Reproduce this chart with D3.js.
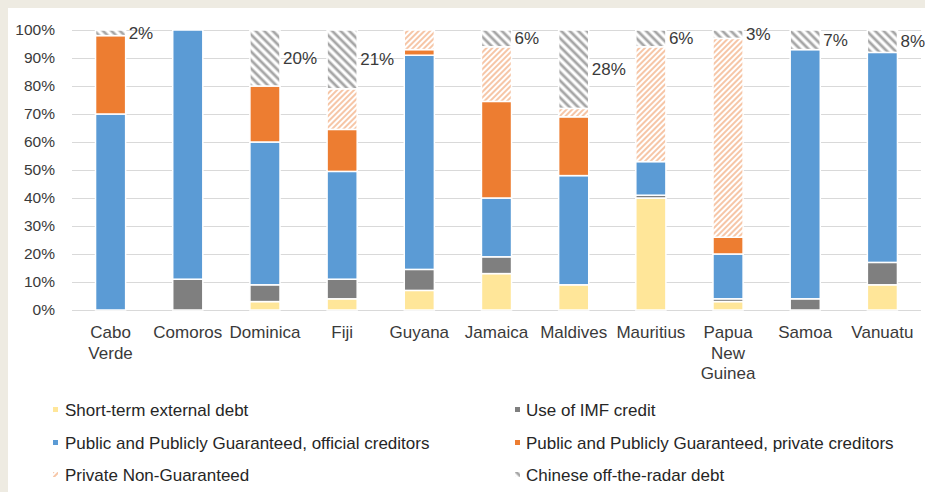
<!DOCTYPE html>
<html>
<head>
<meta charset="utf-8">
<script src="https://cdn.jsdelivr.net/npm/d3@7"></script>
<style>
  body { margin: 0; background: #fff; }
  svg { display: block; font-family: "Liberation Sans", Arial, sans-serif; }
</style>
</head>
<body>
<svg width="925" height="492"></svg>
<script>
// countries on the x axis (line breaks marked by "|")
var countries = ["Cabo|Verde", "Comoros", "Dominica", "Fiji", "Guyana", "Jamaica",
  "Maldives", "Mauritius", "Papua|New|Guinea", "Samoa", "Vanuatu"];

// shares of external debt, in percent
var shortTerm      = [0, 0, 3, 4, 7, 13, 9, 40, 3, 0, 9];
var imfCredit      = [0, 11, 6, 7, 7.5, 6, 0, 1, 1, 4, 8];
var ppgOfficial    = [70, 89, 51, 38.5, 76.5, 21, 39, 12, 16, 89, 75];
var ppgPrivate     = [28, 0, 20, 15, 2, 34.5, 21, 0, 6, 0, 0];
var privateNonGuar = [0, 0, 0, 14.5, 7, 19.5, 3, 41, 71, 0, 0];
var chineseHidden  = [2, 0, 20, 21, 0, 6, 28, 6, 3, 7, 8];

var yTicks = [0, 10, 20, 30, 40, 50, 60, 70, 80, 90, 100];

var seriesNames = ["Short-term external debt", "Use of IMF credit",
  "Public and Publicly Guaranteed, official creditors",
  "Public and Publicly Guaranteed, private creditors",
  "Private Non-Guaranteed", "Chinese off-the-radar debt"];

var svg = d3.select("svg");

// beige frame on the top and left edge
svg.append("rect").attr("x", 0).attr("y", 0).attr("width", 925).attr("height", 8).attr("fill", "#eeebe2");
svg.append("rect").attr("x", 0).attr("y", 0).attr("width", 8).attr("height", 492).attr("fill", "#eeebe2");

var defs = svg.append("defs");

function hatch(id, color, size, stroke, angle) {
  var p = defs.append("pattern")
    .attr("id", id)
    .attr("patternUnits", "userSpaceOnUse")
    .attr("width", size)
    .attr("height", size)
    .attr("patternTransform", "rotate(" + angle + ")");
  p.append("rect").attr("width", size).attr("height", size).attr("fill", "#fff");
  p.append("line")
    .attr("x1", size / 2).attr("y1", 0)
    .attr("x2", size / 2).attr("y2", size)
    .attr("stroke", color)
    .attr("stroke-width", stroke);
}
hatch("hatchPng", "#f2a878", 4, 1.3, 45);
hatch("hatchChina", "#a6a6a6", 6, 2.8, -45);

var fills = ["#ffe699", "#7f7f7f", "#5b9bd5", "#ed7d31", "url(#hatchPng)", "url(#hatchChina)"];

var table = countries.map(function(c, i) {
  return {
    country: c,
    s0: shortTerm[i], s1: imfCredit[i], s2: ppgOfficial[i],
    s3: ppgPrivate[i], s4: privateNonGuar[i], s5: chineseHidden[i]
  };
});
var keys = ["s0", "s1", "s2", "s3", "s4", "s5"];
var stacked = d3.stack().keys(keys)(table);

var x = d3.scaleBand()
  .domain(countries)
  .range([72, 921])
  .paddingInner(0.61)
  .paddingOuter(0.305);

var y = d3.scaleLinear()
  .domain([0, 100])
  .range([310, 30]);

// gridlines
svg.append("g")
  .selectAll("line")
  .data(yTicks)
  .enter().append("line")
  .attr("x1", 72)
  .attr("x2", 921)
  .attr("y1", function(d) { return y(d) + 0.5; })
  .attr("y2", function(d) { return y(d) + 0.5; })
  .attr("stroke", "#d9d9d9")
  .attr("stroke-width", 1);

// y axis labels
var yAxis = svg.append("g")
  .attr("transform", "translate(64,0)")
  .call(d3.axisLeft(y).tickValues(yTicks).tickSize(0).tickPadding(9)
    .tickFormat(function(d) { return d + "%"; }));
yAxis.select(".domain").remove();
yAxis.selectAll("text")
  .attr("font-size", "15.5px")
  .attr("font-family", "Liberation Sans, Arial, sans-serif")
  .attr("fill", "#3a3a3a");

// stacked bars
var layers = svg.append("g")
  .selectAll("g")
  .data(stacked)
  .enter().append("g")
  .attr("fill", function(d, i) { return fills[i]; });

layers.selectAll("rect")
  .data(function(d) { return d.filter(function(s) { return s[1] - s[0] > 0; }); })
  .enter().append("rect")
  .attr("x", function(d) { return x(d.data.country); })
  .attr("width", x.bandwidth())
  .attr("y", function(d) { return y(d[1]); })
  .attr("height", function(d) { return y(d[0]) - y(d[1]); })
  .attr("stroke", "#fff")
  .attr("stroke-width", 1.5);

// labels with the Chinese off-the-radar share
var chinaLayer = stacked[5];
svg.append("g")
  .selectAll("text")
  .data(chinaLayer.filter(function(s) { return s[1] - s[0] > 0; }))
  .enter().append("text")
  .attr("x", function(d) { return x(d.data.country) + x.bandwidth() + 3; })
  .attr("y", function(d) { return y((d[0] + d[1]) / 2) + 6; })
  .attr("font-size", "17px")
  .attr("fill", "#3a3a3a")
  .text(function(d) { return d.data.s5 + "%"; });

// category labels
var cat = svg.append("g")
  .selectAll("text")
  .data(countries)
  .enter().append("text")
  .attr("text-anchor", "middle")
  .attr("font-size", "17px")
  .attr("fill", "#3a3a3a");
cat.each(function(c) {
  var t = d3.select(this);
  c.split("|").forEach(function(part, k) {
    t.append("tspan")
      .attr("x", x(c) + x.bandwidth() / 2)
      .attr("y", 338 + k * 20.5)
      .text(part);
  });
});

// legend: two columns, three rows
var legend = svg.append("g")
  .selectAll("g")
  .data(seriesNames)
  .enter().append("g")
  .attr("transform", function(d, i) {
    var col = i % 2, row = Math.floor(i / 2);
    return "translate(" + (col === 0 ? 53 : 515) + "," + [410, 443, 475][row] + ")";
  });

legend.append("rect")
  .attr("x", 0)
  .attr("y", -3)
  .attr("width", 5)
  .attr("height", 5)
  .attr("fill", function(d, i) { return fills[i]; });

legend.append("text")
  .attr("x", function(d, i) { return i % 2 === 0 ? 12 : 11; })
  .attr("y", 6)
  .attr("font-size", "17px")
  .attr("fill", "#262626")
  .text(function(d) { return d; });
</script>
</body>
</html>
